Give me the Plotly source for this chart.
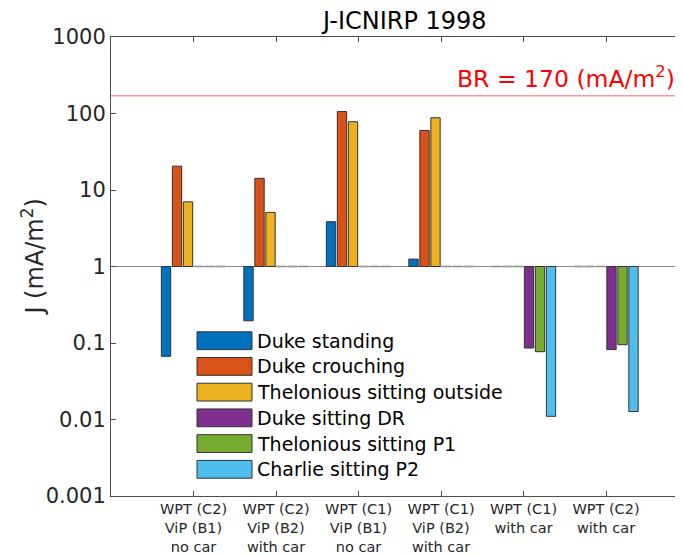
import plotly.graph_objects as go

# ---- data ----
groups = [
    "WPT (C2)<br>ViP (B1)<br>no car",
    "WPT (C2)<br>ViP (B2)<br>with car",
    "WPT (C1)<br>ViP (B1)<br>no car",
    "WPT (C1)<br>ViP (B2)<br>with car",
    "WPT (C1)<br>with car",
    "WPT (C2)<br>with car",
]
series_names = [
    "Duke standing",
    "Duke crouching",
    "Thelonious sitting outside",
    "Duke sitting DR",
    "Thelonious sitting P1",
    "Charlie sitting P2",
]
duke_standing = [0.067, 0.195, 3.85, 1.25, None, None]
duke_crouching = [20.5, 14.2, 106, 60, None, None]
thelonious_outside = [7.0, 5.1, 78, 88, None, None]
duke_sitting_dr = [None, None, None, None, 0.086, 0.082]
thelonious_p1 = [None, None, None, None, 0.077, 0.095]
charlie_p2 = [None, None, None, None, 0.011, 0.0127]
series_values = [duke_standing, duke_crouching, thelonious_outside,
                 duke_sitting_dr, thelonious_p1, charlie_p2]
colors = ["#0072BD", "#D95319", "#EDB120", "#7E2F8E", "#77AC30", "#4DBEEE"]
br_limit = 170
y_ticks = [0.001, 0.01, 0.1, 1, 10, 100, 1000]
y_ticktext = ["0.001", "0.01", "0.1", "1", "10", "100", "1000"]

# ---- layout geometry (pixels, in page coordinates) ----
PAGE_W, PAGE_H = 683, 555
OFF = 8                      # default body margin of the page
W, H = PAGE_W - OFF, PAGE_H - OFF
PLOT_L, PLOT_R, PLOT_T, PLOT_B = 111, 683, 37, 501
L = PLOT_L - OFF
T = PLOT_T - OFF
R = (OFF + W) - PLOT_R
B = (OFF + H) - PLOT_B
PW, PH = PLOT_R - PLOT_L, PLOT_B - PLOT_T
group_step = 82.5
x_max = PW / group_step

def px_x(px):
    return (px - PLOT_L) / PW

def px_y(py):
    return (PLOT_B - py) / PH

FONT = "DejaVu Sans, Verdana, sans-serif"
TXT = "#262626"

fig = go.Figure()
xs = list(range(1, len(groups) + 1))
eps = 1.012
for name, vals, col in zip(series_names, series_values, colors):
    bases, sizes, fills, lines = [], [], [], []
    for v in vals:
        if v is None:
            bases.append(1 / eps)
            sizes.append(eps - 1 / eps)
            fills.append("#9a9a9a")
            lines.append("#9a9a9a")
        else:
            bases.append(1)
            sizes.append(v - 1)
            fills.append(col)
            lines.append("#333333")
    fig.add_trace(go.Bar(
        x=xs, y=sizes, base=bases, name=name,
        marker=dict(color=fills, line=dict(color=lines, width=1)),
        showlegend=False,
    ))

shapes = [
    dict(type="line", xref="paper", yref="y", x0=0, x1=1, y0=1, y1=1,
         line=dict(color="#8c8c8c", width=1), layer="below"),
    dict(type="line", xref="paper", yref="y", x0=0, x1=1, y0=br_limit, y1=br_limit,
         line=dict(color="rgba(255,40,60,0.5)", width=1.5)),
]
annotations = [
    dict(text="BR = 170 (mA/m<sup>2</sup>)", xref="paper", yref="y",
         x=1, y=2.2304, yanchor="bottom", xanchor="right", xshift=-6, yshift=1,
         showarrow=False, font=dict(family=FONT, size=23.5, color="#ff0000")),
    dict(text="J-ICNIRP 1998", xref="paper", yref="paper",
         x=px_x(404), y=px_y(21), xanchor="center", yanchor="middle",
         showarrow=False, font=dict(family=FONT, size=24, color="#000000")),
    dict(text="J (mA/m<sup>2</sup>)", xref="paper", yref="paper",
         x=px_x(33), y=px_y(260), xanchor="center", yanchor="middle",
         textangle=-90, showarrow=False,
         font=dict(family=FONT, size=24, color=TXT)),
]

# custom legend with wide swatches
row0, row_step = 344, 26
for i, (name, col) in enumerate(zip(series_names, colors)):
    yc = row0 + i * row_step
    shapes.append(dict(type="rect", xref="paper", yref="paper",
                       x0=px_x(197), x1=px_x(252), y0=px_y(yc + 9), y1=px_y(yc - 9),
                       fillcolor=col, line=dict(color="#333333", width=1)))
    annotations.append(dict(text=name, xref="paper", yref="paper",
                            x=px_x(255), y=px_y(yc), xanchor="left", yanchor="middle",
                            showarrow=False,
                            font=dict(family=FONT, size=19, color="#000000")))

fig.update_layout(
    width=W, height=H,
    margin=dict(l=L, r=R, t=T, b=B, pad=0),
    paper_bgcolor="white", plot_bgcolor="white",
    barmode="group", bargap=0.2, bargroupgap=0.15,
    shapes=shapes, annotations=annotations,
    font=dict(family=FONT, color=TXT),
)
fig.update_xaxes(
    range=[0, x_max], tickvals=xs, ticktext=groups,
    showline=True, linecolor="#4d4d4d", linewidth=1, mirror="ticks",
    ticks="inside", ticklen=5, tickcolor="#4d4d4d",
    showgrid=False, zeroline=False,
    tickfont=dict(family=FONT, size=14.5, color=TXT),
)
fig.update_yaxes(
    type="log", range=[-3, 3], tickvals=y_ticks, ticktext=y_ticktext,
    showline=True, linecolor="#4d4d4d", linewidth=1, mirror=False,
    ticks="inside", ticklen=5, tickcolor="#4d4d4d",
    showgrid=False, zeroline=False,
    tickfont=dict(family=FONT, size=21, color=TXT),
)

fig.write_html("out.html")
